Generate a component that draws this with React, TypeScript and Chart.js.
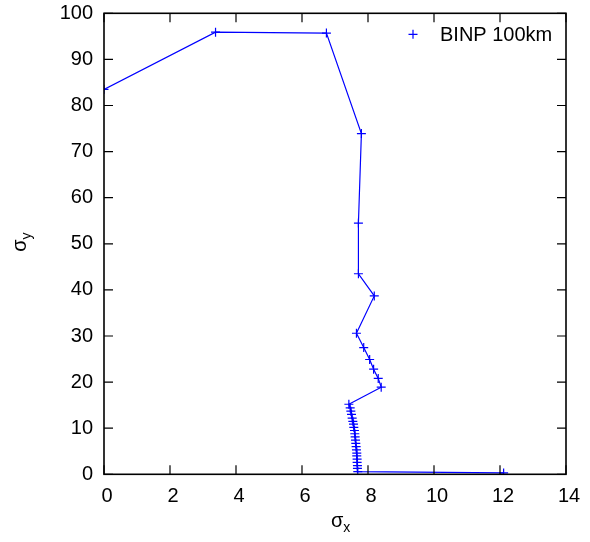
import React, { useEffect, useRef } from "react";
import { Chart, registerables } from "chart.js";

Chart.register(...registerables);

const seriesLabel = "BINP 100km";
const sigmaX: number[] = [
  0.0, 3.38, 6.74, 7.8, 7.71, 7.71, 8.19, 7.65, 7.87, 8.05, 8.17, 8.31, 8.4,
  7.42, 7.46, 7.48, 7.5, 7.52, 7.54, 7.56, 7.57, 7.59, 7.6, 7.61, 7.62, 7.63,
  7.64, 7.65, 7.66, 7.66, 7.67, 7.67, 7.68, 7.68, 7.69, 12.11,
];
const sigmaY: number[] = [
  83.5, 95.9, 95.7, 73.9, 54.5, 43.5, 38.7, 30.6, 27.5, 24.9, 22.8, 20.8, 18.9,
  15.2, 14.4, 13.7, 13.0, 12.2, 11.5, 10.9, 10.2, 9.5, 8.8, 8.1, 7.4, 6.7,
  6.0, 5.3, 4.6, 4.0, 3.3, 2.6, 1.9, 1.3, 0.6, 0.3,
];
const xTicks: number[] = [0, 2, 4, 6, 8, 10, 12, 14];
const yTicks: number[] = [0, 10, 20, 30, 40, 50, 60, 70, 80, 90, 100];

const FONT = "'Liberation Sans', Arial, Helvetica, sans-serif";
const BLUE = "#0000ff";

const framePlugin = {
  id: "frame",
  afterDraw(chart: any) {
    const { ctx, chartArea } = chart;
    const { left, right, top, bottom } = chartArea;
    const xs = chart.scales.x;
    const ys = chart.scales.y;
    const tl = 9;
    ctx.save();
    ctx.strokeStyle = "#000";
    ctx.lineWidth = 1.2;
    ctx.beginPath();
    xTicks.forEach((v) => {
      const px = xs.getPixelForValue(v);
      ctx.moveTo(px, bottom);
      ctx.lineTo(px, bottom - tl);
      ctx.moveTo(px, top);
      ctx.lineTo(px, top + tl);
    });
    yTicks.forEach((v) => {
      const py = ys.getPixelForValue(v);
      ctx.moveTo(left, py);
      ctx.lineTo(left + tl, py);
      ctx.moveTo(right, py);
      ctx.lineTo(right - tl, py);
    });
    ctx.stroke();
    ctx.lineWidth = 1.6;
    ctx.strokeRect(left, top, right - left, bottom - top);

    // legend
    const lx = right - 153;
    const ly = top + 21;
    ctx.strokeStyle = BLUE;
    ctx.lineWidth = 1.2;
    ctx.beginPath();
    ctx.moveTo(lx - 4.5, ly);
    ctx.lineTo(lx + 4.5, ly);
    ctx.moveTo(lx, ly - 4.5);
    ctx.lineTo(lx, ly + 4.5);
    ctx.stroke();
    ctx.fillStyle = "#000";
    ctx.font = `20px ${FONT}`;
    ctx.textAlign = "left";
    ctx.textBaseline = "middle";
    ctx.fillText(seriesLabel, lx + 27, ly + 1);

    // axis titles
    const cx = (left + right) / 2;
    ctx.font = `20px ${FONT}`;
    ctx.textBaseline = "alphabetic";
    ctx.textAlign = "left";
    const sw = ctx.measureText("σ").width;
    ctx.fillText("σ", cx - 4, 527);
    ctx.font = `14px ${FONT}`;
    ctx.fillText("x", cx - 4 + sw, 532);

    ctx.save();
    ctx.translate(26, (top + bottom) / 2 + 8);
    ctx.rotate(-Math.PI / 2);
    ctx.font = `20px ${FONT}`;
    ctx.fillText("σ", 0, 0);
    ctx.font = `14px ${FONT}`;
    ctx.fillText("y", sw, 5);
    ctx.restore();
    ctx.restore();
  },
};

export default function App() {
  const ref = useRef<HTMLCanvasElement | null>(null);
  useEffect(() => {
    document.body.style.margin = "0";
    if (!ref.current) return;
    const data = sigmaX.map((x, i) => ({ x, y: sigmaY[i] }));
    const chart = new Chart(ref.current, {
      type: "scatter",
      data: {
        datasets: [
          {
            label: seriesLabel,
            data,
            showLine: true,
            borderColor: BLUE,
            backgroundColor: BLUE,
            borderWidth: 1.2,
            pointStyle: "cross",
            pointRadius: 4.5,
            pointBorderWidth: 1.2,
            pointBorderColor: BLUE,
            tension: 0,
          },
        ],
      },
      options: {
        responsive: true,
        maintainAspectRatio: false,
        animation: false,
        layout: { padding: { left: 0, top: 13.3, right: 24, bottom: 0 } },
        plugins: {
          legend: { display: false },
          tooltip: { enabled: false },
        },
        scales: {
          x: {
            type: "linear",
            min: 0,
            max: 14,
            afterFit: (s: any) => {
              s.height = 67.7;
              s.paddingLeft = 0;
              s.paddingRight = 0;
              s.paddingTop = 0;
              s.paddingBottom = 0;
            },
            afterBuildTicks: (s: any) => {
              s.ticks = xTicks.map((v) => ({ value: v }));
            },
            grid: { display: false, drawTicks: false },
            border: { display: false },
            ticks: {
              padding: 10,
              labelOffset: 3,
              color: "#000",
              font: { family: FONT, size: 20 },
              maxRotation: 0,
              autoSkip: false,
            },
          },
          y: {
            type: "linear",
            min: 0,
            max: 100,
            afterFit: (s: any) => {
              s.width = 104;
              s.paddingLeft = 0;
              s.paddingRight = 0;
              s.paddingTop = 0;
              s.paddingBottom = 0;
            },
            afterBuildTicks: (s: any) => {
              s.ticks = yTicks.map((v) => ({ value: v }));
            },
            grid: { display: false, drawTicks: false },
            border: { display: false },
            ticks: {
              padding: 11,
              color: "#000",
              font: { family: FONT, size: 20 },
              autoSkip: false,
            },
          },
        },
      },
      plugins: [framePlugin],
    });
    return () => chart.destroy();
  }, []);
  return (
    <div style={{ width: 590, height: 542, position: "relative" }}>
      <canvas ref={ref} />
    </div>
  );
}
